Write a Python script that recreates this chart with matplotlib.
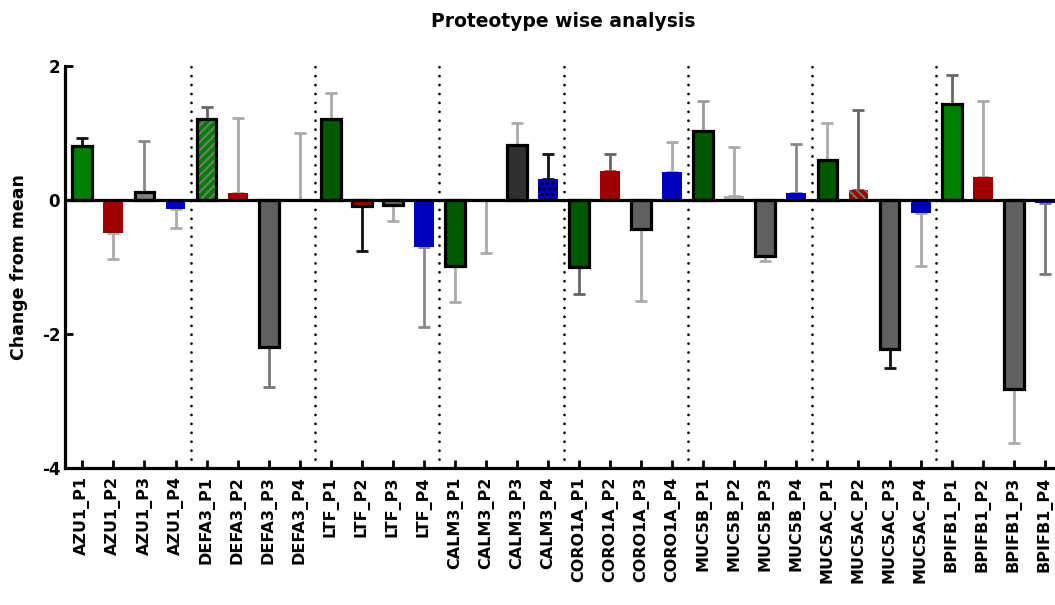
import numpy as np
import matplotlib
matplotlib.use("Agg")
import matplotlib.pyplot as plt

plt.rcParams['font.family'] = ['DejaVu Sans']
plt.rcParams['hatch.linewidth'] = 1.5

# データ
proteins = ['AZU1', 'DEFA3', 'LTF', 'CALM3', 'CORO1A', 'MUC5B', 'MUC5AC', 'BPIFB1']
labels = [f'{p}_P{i}' for p in proteins for i in range(1, 5)]

values = [0.80, -0.49, 0.12, -0.14,
          1.21, 0.11, -2.20, 0.00,
          1.21, -0.09, -0.07, -0.70,
          -0.99, 0.00, 0.82, 0.32,
          -1.00, 0.43, -0.44, 0.41,
          1.03, 0.06, -0.83, 0.10,
          0.60, 0.15, -2.22, -0.20,
          1.43, 0.35, -2.82, -0.05]

errors = [0.13, 0.39, 0.76, 0.28,
          0.17, 1.12, 0.59, 1.00,
          0.39, 0.67, 0.25, 1.20,
          0.53, 0.79, 0.33, 0.37,
          0.40, 0.26, 1.07, 0.46,
          0.44, 0.73, 0.08, 0.73,
          0.55, 1.20, 0.29, 0.79,
          0.44, 1.13, 0.81, 1.06]

# 誤差棒の向き (+1: 上, -1: 下)
err_dir = [1, -1, 1, -1,
           1, 1, -1, 1,
           1, -1, -1, -1,
           -1, -1, 1, 1,
           -1, 1, -1, 1,
           1, 1, -1, 1,
           1, 1, -1, -1,
           1, 1, -1, -1]

face_colors = ['#008000', '#A00000', '#808080', '#0000C0',
               '#008000', '#A00000', '#606060', 'none',
               '#005800', '#A00000', '#707070', '#0000C0',
               '#005800', 'none', '#303030', '#0000C0',
               '#005800', '#A00000', '#606060', '#0000C0',
               '#005800', '#AAAAAA', '#606060', '#0000C0',
               '#005800', '#A00000', '#606060', '#0000C0',
               '#008000', '#A00000', '#606060', '#0000C0']

edged = [1, 0, 1, 0,
         1, 0, 1, 0,
         1, 1, 1, 0,
         1, 0, 1, 0,
         1, 0, 1, 0,
         1, 0, 1, 0,
         1, 0, 1, 0,
         1, 0, 1, 0]

err_colors = ['#111111', '#AAAAAA', '#888888', '#AAAAAA',
              '#666666', '#AAAAAA', '#777777', '#AAAAAA',
              '#AAAAAA', '#111111', '#AAAAAA', '#888888',
              '#AAAAAA', '#AAAAAA', '#AAAAAA', '#111111',
              '#666666', '#666666', '#AAAAAA', '#AAAAAA',
              '#999999', '#AAAAAA', '#AAAAAA', '#888888',
              '#AAAAAA', '#666666', '#111111', '#AAAAAA',
              '#666666', '#AAAAAA', '#AAAAAA', '#777777']

# ハッチ (棒の番号 -> (模様, 色))
hatches = {4: ('////', '#777777'), 15: ('...', 'black'), 25: ('\\\\\\\\', '#777777')}

fig = plt.figure(figsize=(10.55, 6.05), dpi=100)
ax = fig.add_axes([0.0616, 0.2264, 0.9384, 0.6646])

x = np.arange(len(values))
width = 0.64

# 区切りの点線
for sep in np.arange(3.5, len(values) - 1, 4):
    ax.plot([sep, sep], [-4, 2], color='black', lw=2.0,
            linestyle=(0, (0.01, 3.2)), dash_capstyle='round', zorder=1)

# 誤差棒
for i in range(len(values)):
    lo = errors[i] if err_dir[i] < 0 else 0
    hi = errors[i] if err_dir[i] > 0 else 0
    ax.errorbar(x[i], values[i], yerr=[[lo], [hi]], fmt='none',
                ecolor=err_colors[i], elinewidth=2.0, capsize=4, capthick=2.0,
                zorder=2)

# 棒
for i in range(len(values)):
    if face_colors[i] == 'none':
        continue
    if i in hatches:
        h, hc = hatches[i]
        ax.bar(x[i], values[i], width, color=face_colors[i], hatch=h,
               edgecolor=hc, linewidth=0, zorder=3)
    else:
        ax.bar(x[i], values[i], width, color=face_colors[i], linewidth=0, zorder=3)
    if edged[i]:
        ax.bar(x[i], values[i], width, fill=False, edgecolor='black',
               linewidth=2.3, zorder=4)

ax.axhline(0, color='black', lw=2.3, zorder=5)

ax.set_xlim(-0.56, 31.33)
ax.set_ylim(-4, 2)
ax.set_yticks([-4, -2, 0, 2])
ax.set_yticklabels(['-4', '-2', '0', '2'], fontweight='bold', fontsize=12)
ax.set_xticks(x)
ax.set_xticklabels(labels, rotation=90, fontweight='bold', fontsize=11.5)
ax.tick_params(axis='both', direction='in', length=6, width=2)
ax.tick_params(axis='x', pad=6)

for s in ['top', 'right']:
    ax.spines[s].set_visible(False)
for s in ['left', 'bottom']:
    ax.spines[s].set_linewidth(2.3)

ax.set_ylabel('Change from mean', fontweight='bold', fontsize=12.5, labelpad=10)
fig.text(0.534, 0.965, 'Proteotype wise analysis', ha='center', va='center',
         fontweight='bold', fontsize=13.5)

fig.savefig('out.png', dpi=100)
